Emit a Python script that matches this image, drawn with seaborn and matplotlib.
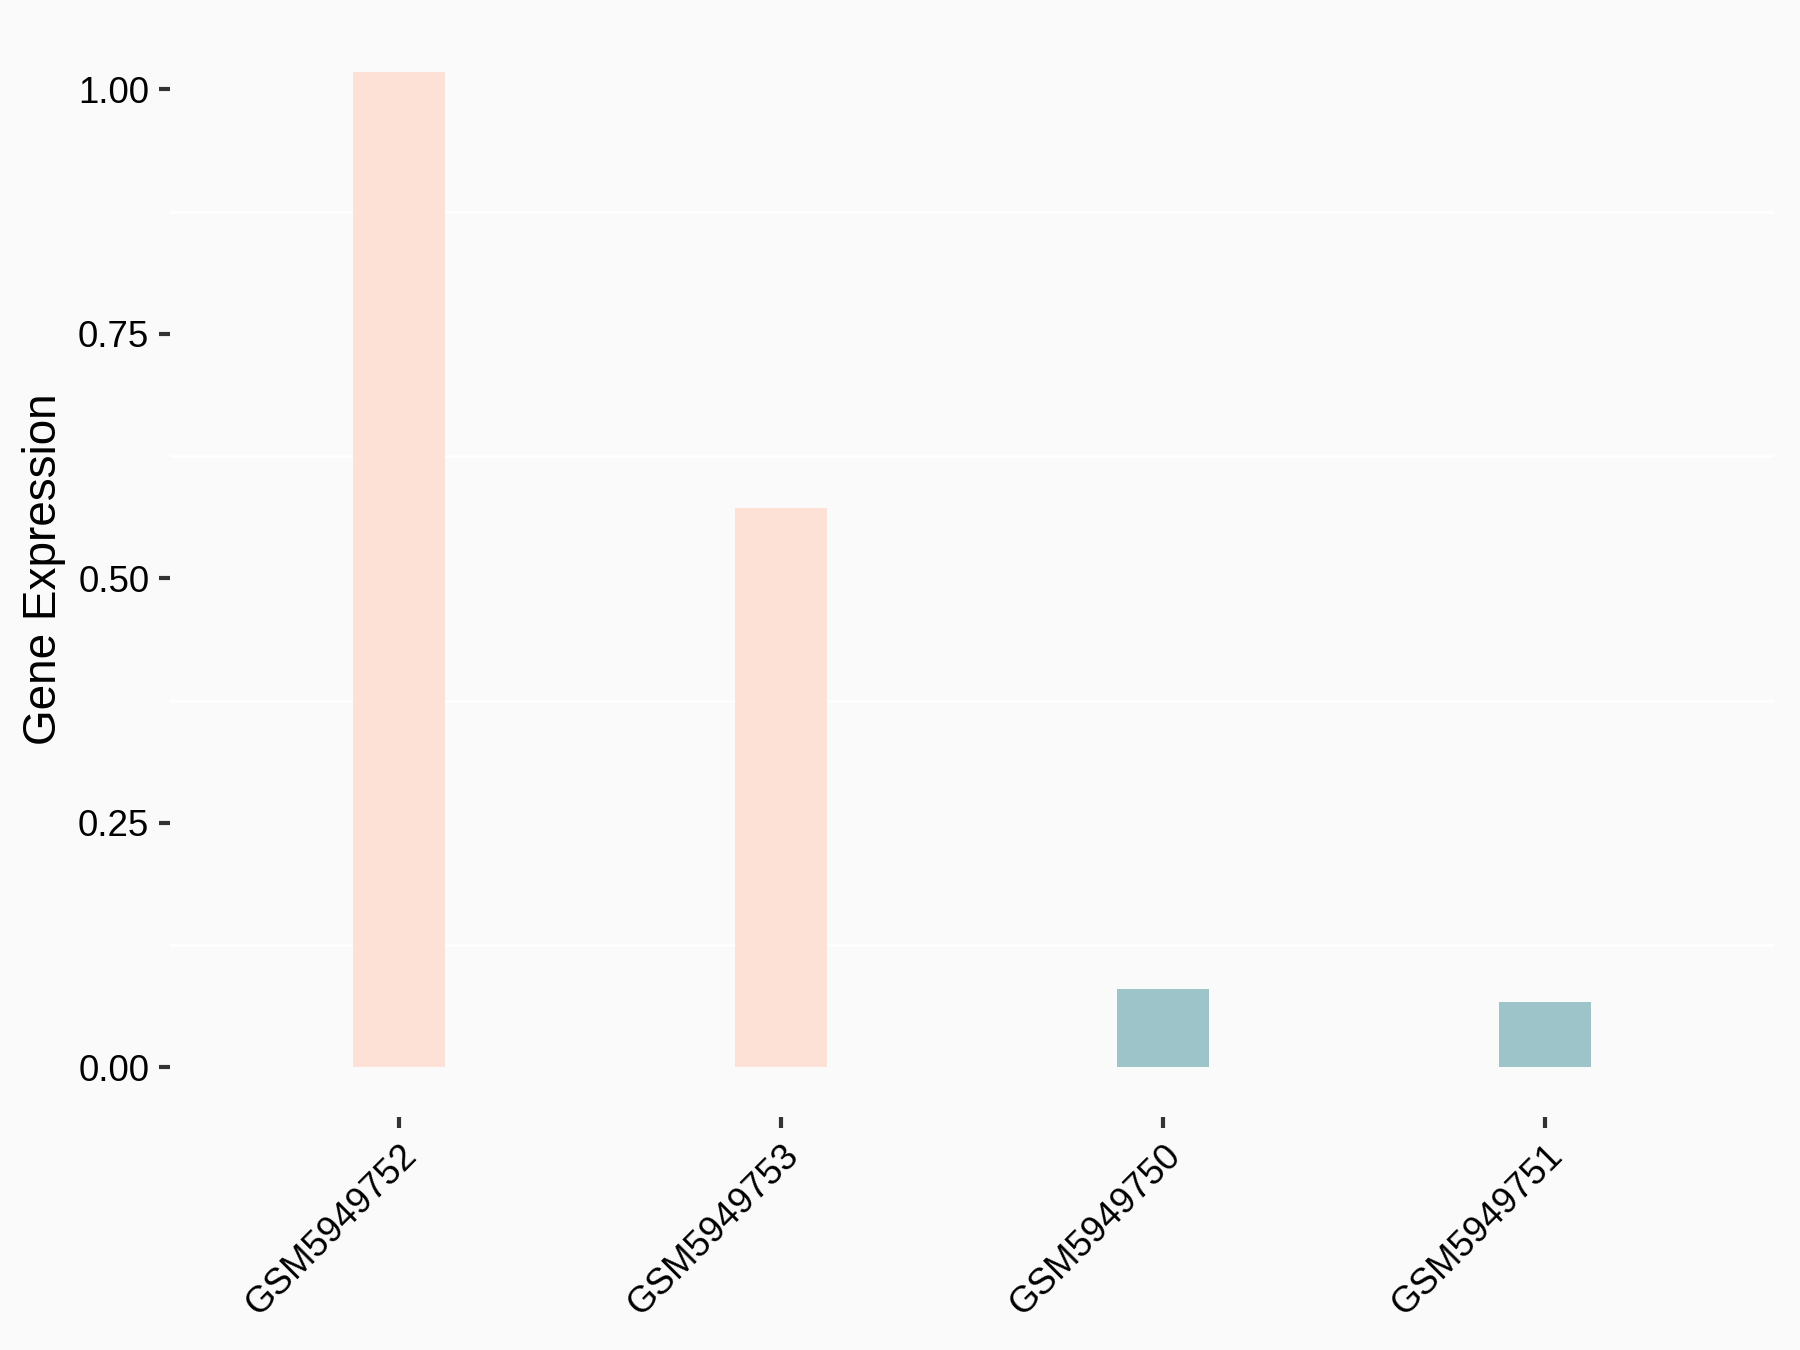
import matplotlib
matplotlib.use("Agg")
import matplotlib.pyplot as plt
import seaborn as sns
import pandas as pd
import numpy as np
from matplotlib.ticker import FixedLocator

samples = ["GSM5949752", "GSM5949753", "GSM5949750", "GSM5949751"]
expression = [1.018, 0.572, 0.080, 0.067]
groups = ["High", "High", "Low", "Low"]
group_colors = {"High": "#FDE1D7", "Low": "#9DC4C8"}
yticks = [0.0, 0.25, 0.5, 0.75, 1.0]
ytick_labels = ["0.00", "0.25", "0.50", "0.75", "1.00"]
minor_grid = [0.125, 0.375, 0.625, 0.875]

sns.set_style("white")
plt.rcParams["font.family"] = ["Liberation Sans", "DejaVu Sans"]

df = pd.DataFrame({"sample": samples, "expr": expression, "group": groups})

fig = plt.figure(figsize=(6, 4.5), dpi=300, facecolor="#FAFAFA")
ax = fig.add_axes([0.0944, 0.1726, 0.9856 - 0.0944, 0.9837 - 0.1726])
ax.set_facecolor("#FAFAFA")

sns.barplot(data=df, x="sample", y="expr", hue="group", palette=group_colors,
            order=samples, width=0.24, dodge=False, legend=False,
            saturation=1, linewidth=0, ax=ax, zorder=3)

ax.set_xlim(-0.6, 3.6)
ymax = max(expression)
ax.set_ylim(-0.05 * ymax, ymax * 1.05)

ax.yaxis.set_major_locator(FixedLocator(yticks))
ax.set_yticklabels(ytick_labels)
for g in minor_grid:
    ax.axhline(g, color="white", linewidth=0.6, zorder=1)

for s in ax.spines.values():
    s.set_visible(False)

ax.tick_params(axis="both", which="major", length=2.75, width=1.0,
               color="#333333", labelsize=8.8, labelcolor="black", pad=2.2,
               left=True, bottom=True)
for lbl in ax.get_xticklabels():
    lbl.set_rotation(45)
    lbl.set_ha("right")
    lbl.set_va("top")
    lbl.set_rotation_mode("anchor")

ax.set_xlabel("")
ax.set_ylabel("Gene Expression", fontsize=11, color="black", labelpad=3)

fig.savefig("out.png", dpi=300, facecolor="#FAFAFA")
